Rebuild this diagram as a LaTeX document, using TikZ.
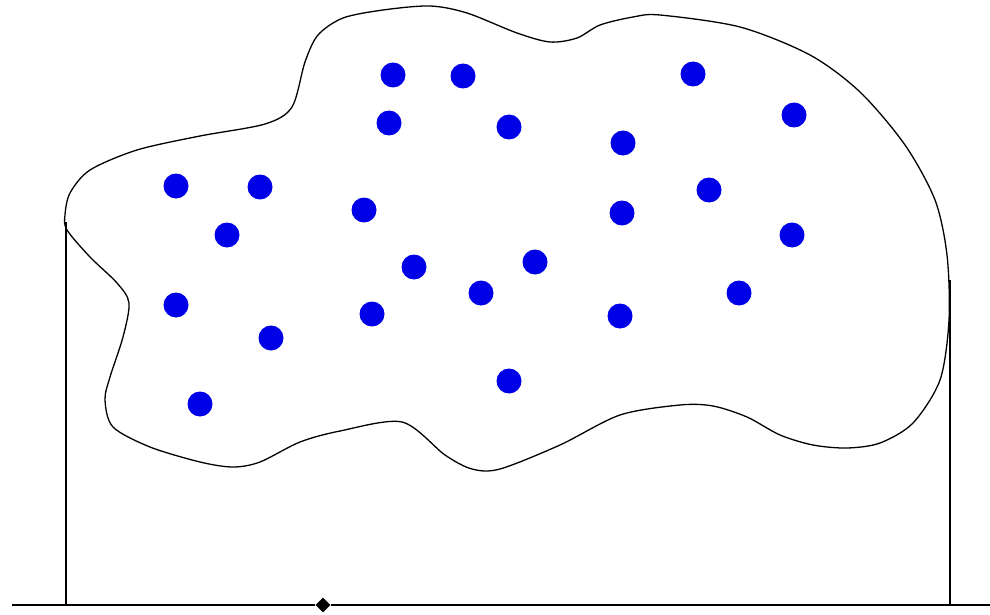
\documentclass[tikz,border=0pt]{standalone}
\usetikzlibrary{shapes.geometric}
\definecolor{dotblue}{HTML}{0000E6}

\tikzset{
  outline/.style={draw=black, line width=1.3pt},
  particle/.style={circle, fill=dotblue, inner sep=0pt, minimum size=25pt},
  pivot/.style={diamond, fill=black, inner sep=0pt, minimum size=15pt}
}

\begin{document}
\begin{tikzpicture}[x=1pt, y=-1pt]
  \useasboundingbox (0,0) rectangle (990,615);
  % cloud
  \draw[outline] plot[smooth cycle, tension=0.5] coordinates {
    (65,215) (70,193) (90,170) (137,150) (200,136) (265,124) (292,107)
    (305,62) (318,35) (343,18) (383,10) (430,6) (467,13) (517,33)
    (550,42) (577,38) (600,25) (633,17) (660,15) (740,27) (810,55)
    (860,92) (905,145) (935,200) (947,255) (949,320) (940,380)
    (913,423) (880,443) (847,448) (813,445) (780,435) (747,417)
    (713,406) (680,405) (620,415) (560,445) (500,469) (472,469)
    (445,455) (402,422) (340,431) (300,442) (260,462)
    (233,467) (200,462) (150,447) (113,427) (105,400) (110,377)
    (123,337) (129,303) (117,283) (90,257) (67,230)};
  % walls and floor
  \coordinate (wl) at (66,222);
  \coordinate (wr) at (950,280);
  \coordinate (fl) at (12,605);
  \coordinate (fr) at (990,605);
  \node[pivot] (p) at (323,605) {};
  \draw[outline] (fl) -- (p) -- (fr);
  \draw[outline] (wl) -- (wl |- fl);
  \draw[outline] (wr) -- (wr |- fl);
  % particles
  \foreach \x/\y [count=\i] in {393/75, 463/76, 693/74, 794/115, 389/123,
      509/127, 623/143, 176/186, 260/187, 709/190, 364/210, 622/213,
      227/235, 792/235, 414/267, 535/262, 481/293, 739/293, 176/305,
      372/314, 620/316, 271/338, 509/381, 200/404}
    \node[particle] (d\i) at (\x,\y) {};
\end{tikzpicture}
\end{document}
